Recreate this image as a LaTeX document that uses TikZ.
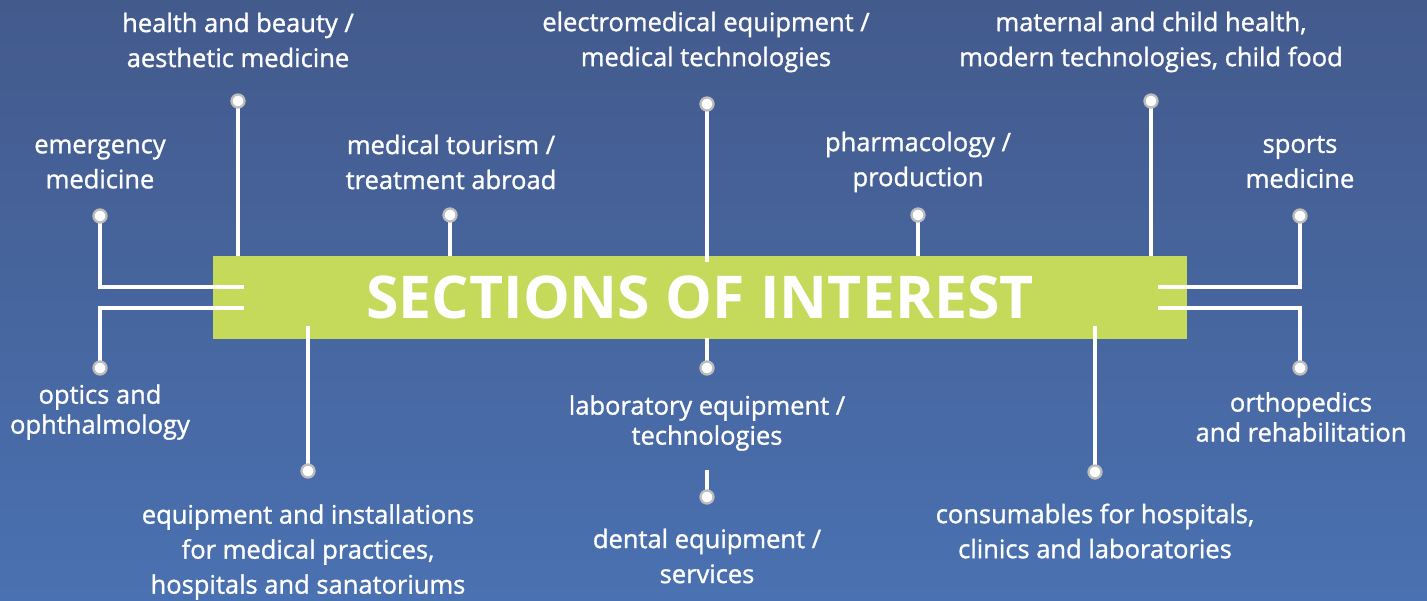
\documentclass[tikz,border=0pt]{standalone}
\usepackage{fontspec}
\setmainfont{Open Sans}
\newfontfamily\lblfont{Open Sans}[FakeBold=1.2]
\usetikzlibrary{positioning}
\definecolor{bgtop}{HTML}{435A8C}
\definecolor{bgbot}{HTML}{4A71B1}
\definecolor{lime}{HTML}{C5DA5A}
\definecolor{ring}{HTML}{BDBDBD}
\begin{document}
\begin{tikzpicture}[x=1pt,y=-1pt,
    wire/.style={white,line width=4pt},
    pin/.style={circle,fill=white,draw=ring,line width=2.3pt,minimum size=13pt,inner sep=0pt},
    lbl/.style={text=white,align=center,font=\lblfont\fontsize{25.5}{35}\selectfont},
    lbls/.style={text=white,align=center,font=\lblfont\fontsize{25.5}{30}\selectfont}]
    % background
    \shade[top color=bgtop,bottom color=bgbot] (0,0) rectangle (1427,600);
    \useasboundingbox (0,0) rectangle (1427,600);

    % central bar
    \node[fill=lime,minimum width=974pt,minimum height=83pt,inner sep=0pt] (bar) at (700,297) {};
    \node[text=white,font=\fontsize{59}{59}\selectfont\bfseries] (title) at (700,297) {SECTIONS OF INTEREST};

    % wire ends
    \coordinate (eEmerg) at (244,287);
    \coordinate (eOpt) at (244,308);
    \coordinate (eSport) at (1158,287);
    \coordinate (eOrth) at (1158,308);
    \coordinate (eHealth) at (238,256);
    \coordinate (eTour) at (450,256);
    \coordinate (eElec) at (707,262);
    \coordinate (ePharm) at (918,256);
    \coordinate (eMat) at (1151,256);
    \coordinate (eEquip) at (308,326);
    \coordinate (eLab) at (707,338);
    \coordinate (eDent) at (707,470);
    \coordinate (eCons) at (1095,326);

    % pins
    \coordinate (pEmerg) at (100,216);
    \coordinate (pHealth) at (238,101);
    \coordinate (pTour) at (450,215);
    \coordinate (pElec) at (707,104);
    \coordinate (pPharm) at (918,215);
    \coordinate (pMat) at (1151,101);
    \coordinate (pSport) at (1300,216);
    \coordinate (pOpt) at (100,368);
    \coordinate (pEquip) at (308,471);
    \coordinate (pLab) at (707,368);
    \coordinate (pDent) at (707,497);
    \coordinate (pCons) at (1095,472);
    \coordinate (pOrth) at (1300,368);

    % wires
    \draw[wire] (pEmerg) |- (eEmerg);
    \draw[wire] (pOpt) |- (eOpt);
    \draw[wire] (pSport) |- (eSport);
    \draw[wire] (pOrth) |- (eOrth);
    \foreach \p in {Health,Tour,Elec,Pharm,Mat,Equip,Lab,Dent,Cons}
        \draw[wire] (p\p) -- (e\p);
    \foreach \p in {Emerg,Health,Tour,Elec,Pharm,Mat,Sport,Opt,Equip,Lab,Dent,Cons,Orth}
        \node[pin] (n\p) at (p\p) {};

    % labels
    \node[lbl] (tHealth) at (238,40) {health and beauty /\\aesthetic medicine};
    \node[lbl] (tEmerg) at (100,164) {emergency\\medicine};
    \node[lbl] (tTour) at (451,162) {medical tourism /\\treatment abroad};
    \node[lbl] (tElec) at (706,42) {electromedical equipment /\\medical technologies};
    \node[lbl] (tPharm) at (918,162) {pharmacology /\\production};
    \node[lbl] (tMat) at (1151,42) {maternal and child health,\\modern technologies, child food};
    \node[lbl] (tSport) at (1300,162) {sports\\medicine};
    \node[lbls] (tOpt) at (100,412) {optics and\\ophthalmology};
    \node[lbl] (tEquip) at (308,552) {equipment and installations\\for medical practices,\\hospitals and sanatoriums};
    \node[lbls] (tLab) at (707,423) {laboratory equipment /\\technologies};
    \node[lbl] (tDent) at (707,556) {dental equipment /\\services};
    \node[lbl] (tCons) at (1095,531) {consumables for hospitals,\\clinics and laboratories};
    \node[lbls] (tOrth) at (1301,417) {orthopedics\\and rehabilitation};
\end{tikzpicture}
\end{document}
